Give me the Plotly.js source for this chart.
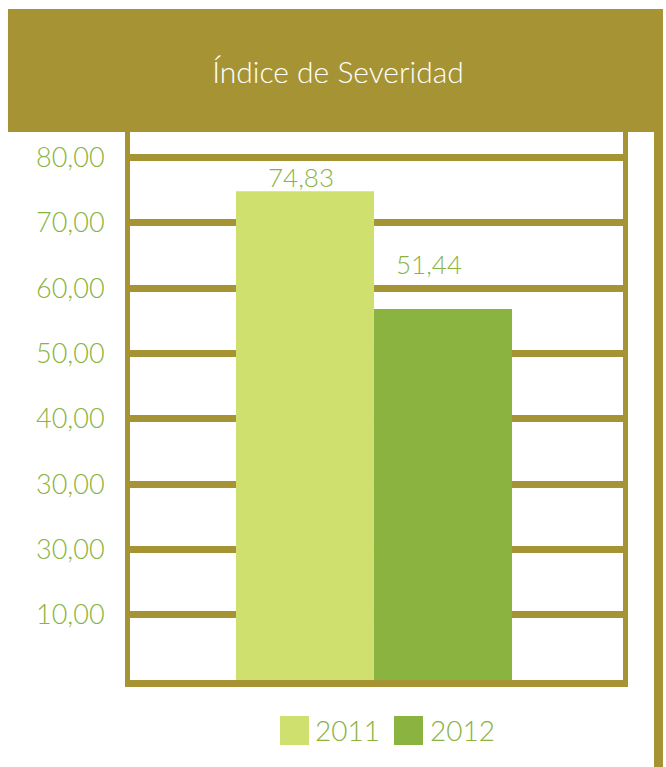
<!DOCTYPE html>
<html>
<head>
<meta charset="utf-8">
<script src="https://cdn.plot.ly/plotly-3.0.1.min.js"></script>
<style>html,body{margin:0;padding:0;background:#fff;}#chart{width:666px;height:767px;}</style>
</head>
<body>
<div id="chart"></div>
<script>
const chartTitle = 'Índice de Severidad';
const category = ['Índice de Severidad'];
const seriesNames = ['2011', '2012'];
const seriesValues = [74.83, 56.8];
const valueLabels = ['74,83', '51,44'];
const tickVals = [10, 20, 30, 40, 50, 60, 70, 80];
const tickText = ['10,00', '30,00', '30,00', '40,00', '50,00', '60,00', '70,00', '80,00'];

const colors = ['#cfe06e', '#8ab33f'];
const olive = '#a69434';
const green = '#8ab33f';
const fontFam = 'Lato, "Open Sans", sans-serif';

const traces = seriesNames.map((n, i) => ({
  type: 'bar',
  name: n,
  x: category,
  y: [seriesValues[i]],
  width: [0.5],
  offset: [i === 0 ? -0.5 : 0],
  marker: {color: colors[i]},
  showlegend: false,
  hoverinfo: 'none'
}));

const labelShift = [-4, 27];
const labelX = [-0.265, 0.2];
const annotations = valueLabels.map((t, i) => ({
  x: labelX[i], y: seriesValues[i], xref: 'x', yref: 'y',
  text: t, showarrow: false, yanchor: 'bottom', yshift: labelShift[i],
  font: {family: fontFam, size: 26, color: green, weight: 300}
}));

// legend (drawn manually for large swatches)
const legSq = [[0.3043, 0.3631], [0.5355, 0.5943]];
const legTx = [0.3712, 0.6045];
const shapes = [
  // header band
  {type: 'rect', xref: 'paper', yref: 'paper', x0: -0.2475, x1: 1.0811, y0: 1, y1: 1.2245,
   fillcolor: olive, line: {width: 0}, layer: 'above'},
  // right vertical bar
  {type: 'rect', xref: 'paper', yref: 'paper', x0: 1.0629, x1: 1.0811, y0: -0.1588, y1: 1,
   fillcolor: olive, line: {width: 0}, layer: 'above'}
];
seriesNames.forEach((n, i) => {
  shapes.push({type: 'rect', xref: 'paper', yref: 'paper', x0: legSq[i][0], x1: legSq[i][1],
    y0: -0.1186, y1: -0.0657, fillcolor: colors[i], line: {width: 0}});
  annotations.push({x: legTx[i], y: -0.0921, xref: 'paper', yref: 'paper', xanchor: 'left',
    yanchor: 'middle', text: n, showarrow: false,
    font: {family: fontFam, size: 28, color: green, weight: 300}});
});

const layout = {
  width: 666, height: 767,
  margin: {l: 130, r: 43, t: 132, b: 87, pad: 0},
  paper_bgcolor: '#ffffff', plot_bgcolor: '#ffffff',
  title: {text: chartTitle, xref: 'container', yref: 'container', x: 0.5075, y: 0.906,
    xanchor: 'center', yanchor: 'middle',
    font: {family: fontFam, size: 30, color: '#ffffff', weight: 300}},
  barmode: 'overlay',
  showlegend: false,
  xaxis: {type: 'category', range: [-0.884, 0.902], showticklabels: false, showgrid: false,
    zeroline: false, showline: true, linecolor: olive, linewidth: 7, mirror: true, fixedrange: true},
  yaxis: {range: [0, 83.9], tickvals: tickVals, ticktext: tickText, showgrid: true,
    gridcolor: olive, gridwidth: 7, zeroline: false, showline: true, linecolor: olive,
    linewidth: 5, mirror: true, ticks: '', ticklabelstandoff: 15,
    tickfont: {family: fontFam, size: 27, color: green, weight: 300}, fixedrange: true},
  shapes: shapes,
  annotations: annotations
};

Plotly.newPlot('chart', traces, layout, {displayModeBar: false, staticPlot: true});
</script>
</body>
</html>
